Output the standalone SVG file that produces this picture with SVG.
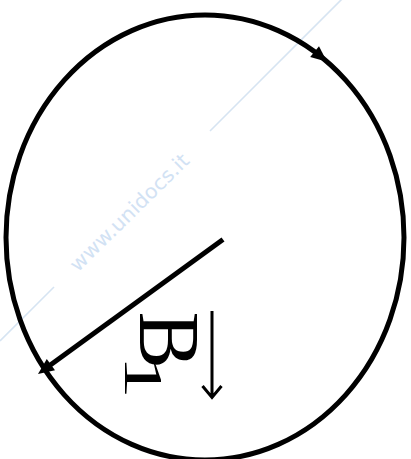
<svg xmlns="http://www.w3.org/2000/svg" width="411" height="459" viewBox="0 0 411 459">
  <style>
    .wm-line { stroke: #d6e4f2; stroke-width: 1.6; fill: none; }
    .wm-text { fill: #d2e2f4; font-family: "DejaVu Sans", Verdana, sans-serif; font-size: 20px; }
    .main { stroke: #000; stroke-width: 5; fill: none; }
    .head { fill: #000; stroke: none; }
    .label { font-family: "Liberation Serif", "Times New Roman", serif; fill: #000; }
  </style>
  <rect width="411" height="459" fill="#fff"/>
  <g id="watermark">
    <line class="wm-line" x1="0" y1="341" x2="54" y2="287"/>
    <line class="wm-line" x1="210" y1="131" x2="342" y2="-1"/>
    <text class="wm-text" transform="translate(130,213) rotate(-44.5)" text-anchor="middle" x="0" y="6" textLength="158" lengthAdjust="spacingAndGlyphs">www.unidocs.it</text>
  </g>
  <g id="circle-node">
    <ellipse class="main" cx="205" cy="237.5" rx="199" ry="222.5"/>
    <polygon class="head" points="327,61.7 319,46.2 310.2,57"/>
  </g>
  <g id="connectors">
    <line class="main" x1="223" y1="239.5" x2="50" y2="365.3"/>
    <polygon class="head" points="38,374 55,370.3 46.8,358.9"/>
  </g>
  <g id="label-B1">
    <text class="label" font-size="86" transform="translate(140,311.6) rotate(90)" x="0" y="0">B</text>
    <text class="label" font-size="55" transform="translate(125,355) rotate(90) scale(1.6,1)" x="0" y="0">1</text>
    <path d="M212,311 V397 M202.5,386 L212,397.5 L221.5,386" stroke="#000" stroke-width="3" fill="none"/>
  </g>
</svg>
